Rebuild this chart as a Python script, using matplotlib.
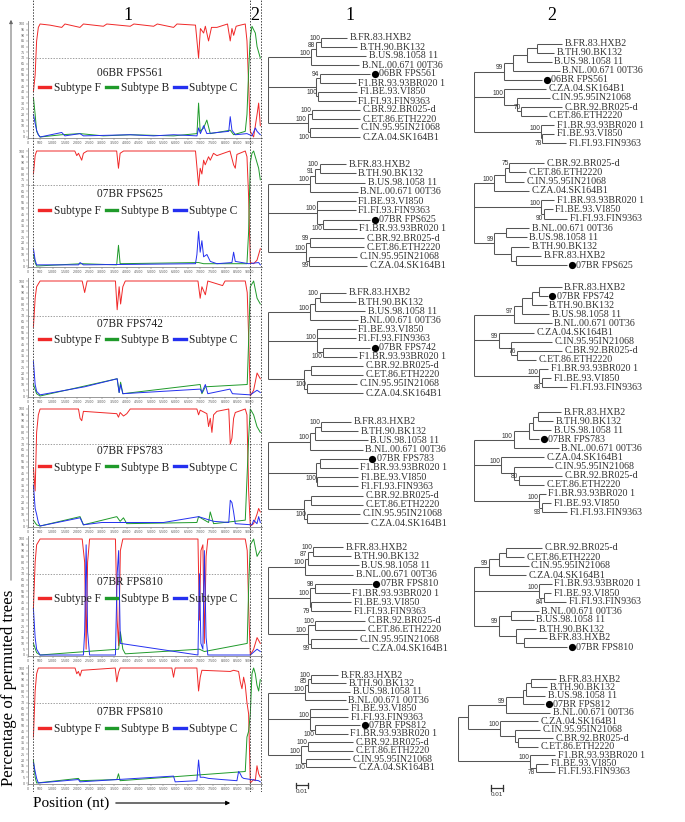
import matplotlib
matplotlib.use("Agg")
import matplotlib.pyplot as plt
from matplotlib.ticker import FuncFormatter
from matplotlib.patches import FancyArrowPatch

# ---------------------------------------------------------------- data
SAMPLES = ["06BR FPS561", "07BR FPS625", "07BR FPS742", "07BR FPS783", "07BR FPS810", "07BR FPS810"]
SUBTYPES = ["Subtype F", "Subtype B", "Subtype C"]
BREAKS = [217, 9000, 9450]
REGION_LABELS = ["1", "2"]
X_TICKS = list(range(0, 9001, 500))
Y_TICKS = list(range(0, 101, 5))

P1_F_POS = [220, 290, 350, 420, 490, 890, 1370, 1500, 2110, 2250, 3060, 3200, 4150, 4300, 5100, 5250, 5910, 6050, 6800, 6925, 7000, 7130, 7200, 7330, 7450, 7670, 8100, 8210, 8280, 8350, 8450, 8620, 8820, 8890, 8960, 9025, 9160, 9230, 9300, 9364, 9431]
P1_F_PCT = [40, 55, 85, 97, 100, 99, 97, 100, 97, 100, 98, 100, 98, 100, 98, 100, 97, 100, 99, 70, 96, 92, 98, 85, 97, 97, 100, 85, 96, 90, 98, 99, 100, 85, 45, 5, 0, 10, 20, 30, 10]
P1_B_POS = [220, 290, 350, 420, 490, 1370, 2110, 3060, 4150, 5910, 6860, 6925, 6990, 7130, 7260, 7400, 8210, 8350, 8820, 8890, 8960, 9025, 9093, 9160, 9230, 9300, 9364, 9431]
P1_B_PCT = [35, 20, 5, 2, 0, 2, 3, 1, 2, 1, 3, 30, 5, 8, 15, 3, 6, 2, 5, 20, 60, 88, 98, 95, 92, 80, 75, 70]
P1_C_POS = [220, 290, 350, 420, 490, 1370, 1500, 2110, 2250, 4150, 5100, 5910, 6860, 6925, 7000, 7130, 7260, 8150, 8210, 8280, 8420, 8890, 9093, 9230, 9300, 9431]
P1_C_PCT = [20, 12, 6, 2, 0, 4, 1, 3, 1, 2, 1, 2, 1, 8, 3, 10, 3, 5, 18, 6, 2, 3, 1, 8, 5, 2]

P2_F_POS = [220, 290, 350, 1900, 1980, 2050, 2180, 2250, 2400, 3600, 3673, 3740, 3880, 6800, 6925, 6990, 7060, 7130, 7195, 7330, 7400, 7530, 7670, 8200, 8347, 8415, 8482, 8820, 8890, 8957, 9025, 9160, 9296, 9364, 9431]
P2_F_PCT = [80, 96, 100, 100, 96, 98, 92, 98, 100, 100, 85, 98, 100, 100, 70, 85, 80, 92, 88, 95, 92, 98, 96, 100, 88, 85, 97, 100, 95, 60, 3, 2, 5, 10, 15]
P2_B_POS = [220, 290, 350, 2180, 3600, 3673, 3740, 6925, 7130, 8889, 8957, 9025, 9093, 9160, 9296, 9364, 9431]
P2_B_PCT = [10, 3, 0, 2, 1, 18, 2, 3, 2, 2, 30, 90, 98, 100, 90, 85, 75]
P2_C_POS = [220, 290, 350, 2050, 2114, 2250, 6800, 6857, 6925, 6990, 7060, 7130, 7263, 7400, 7670, 8279, 8347, 8415, 8957, 9364, 9431]
P2_C_PCT = [15, 5, 1, 1, 3, 1, 2, 10, 30, 12, 22, 8, 10, 4, 2, 3, 12, 4, 2, 3, 1]

P3_F_POS = [220, 290, 350, 490, 2200, 2300, 2400, 3550, 3620, 3700, 3760, 3850, 3950, 6900, 6990, 7060, 7200, 7300, 7900, 8000, 8820, 8900, 8960, 9025, 9160, 9300, 9431]
P3_F_PCT = [60, 85, 95, 100, 100, 90, 100, 100, 75, 95, 80, 95, 100, 100, 85, 95, 88, 100, 96, 100, 100, 90, 50, 0, 5, 20, 15]
P3_B_POS = [220, 350, 490, 3620, 3700, 3760, 3850, 6990, 7060, 7200, 8900, 8960, 9025, 9160, 9300, 9431]
P3_B_PCT = [10, 2, 0, 15, 3, 12, 2, 10, 2, 8, 10, 50, 95, 100, 85, 80]
P3_C_POS = [220, 290, 350, 490, 2300, 3620, 3700, 3760, 3850, 6990, 7060, 7200, 7300, 8200, 8300, 9025, 9300, 9431]
P3_C_PCT = [30, 10, 4, 1, 8, 15, 3, 10, 2, 6, 3, 10, 2, 6, 2, 1, 5, 3]

P4_F_POS = [220, 290, 350, 420, 490, 2050, 2114, 2182, 2250, 3605, 3673, 3741, 3876, 4011, 4150, 6857, 6925, 6992, 7263, 7331, 7399, 7467, 7534, 7670, 8150, 8212, 8279, 8347, 8415, 8821, 8889, 8957, 9025, 9160, 9296, 9364, 9431]
P4_F_PCT = [50, 30, 80, 95, 100, 100, 92, 90, 98, 96, 93, 97, 94, 96, 100, 100, 95, 99, 96, 85, 92, 80, 95, 98, 100, 70, 75, 92, 97, 100, 95, 30, 0, 2, 10, 15, 12]
P4_B_POS = [220, 350, 490, 2114, 2250, 3605, 3741, 3876, 4011, 6857, 6925, 7331, 7399, 7534, 8821, 8889, 8957, 9025, 9160, 9296, 9431]
P4_B_PCT = [5, 1, 0, 8, 1, 8, 4, 7, 2, 3, 8, 3, 12, 2, 5, 40, 75, 100, 95, 85, 80]
P4_C_POS = [220, 290, 350, 420, 490, 2114, 2250, 2995, 3673, 5502, 6925, 7534, 8150, 8212, 8279, 8347, 8415, 9093, 9160, 9296, 9364, 9431]
P4_C_PCT = [35, 15, 10, 3, 0, 7, 1, 3, 3, 3, 8, 4, 3, 22, 20, 12, 2, 1, 5, 2, 8, 3]

P5_F_POS = [220, 290, 350, 490, 2200, 2300, 2360, 2420, 2500, 3550, 3620, 3680, 3750, 3850, 6900, 6960, 7020, 7100, 7160, 7230, 7300, 8820, 8900, 8960, 9025, 9160, 9300, 9431]
P5_F_PCT = [40, 80, 95, 100, 100, 80, 5, 80, 100, 100, 30, 8, 90, 100, 100, 30, 90, 95, 10, 85, 100, 100, 90, 40, 0, 5, 15, 10]
P5_B_POS = [220, 350, 490, 2360, 3680, 3750, 3850, 3950, 6960, 7160, 8900, 8960, 9025, 9160, 9300, 9431]
P5_B_PCT = [10, 2, 0, 3, 5, 20, 5, 1, 5, 3, 10, 60, 95, 100, 85, 90]
P5_C_POS = [220, 290, 350, 490, 2250, 2300, 2360, 2420, 2500, 3550, 3620, 3680, 3750, 6900, 6960, 7020, 7100, 7160, 7230, 7300, 9025, 9300, 9431]
P5_C_PCT = [40, 15, 5, 0, 0, 20, 95, 20, 0, 0, 70, 90, 10, 0, 70, 10, 5, 90, 15, 0, 0, 5, 3]

P6_F_POS = [220, 290, 350, 420, 1911, 1979, 2046, 2114, 2182, 3541, 3605, 3673, 3741, 5840, 5908, 5976, 6857, 6925, 6992, 7060, 8212, 8347, 8550, 8618, 8686, 8754, 8821, 8889, 8957, 9025, 9160, 9228, 9296, 9364, 9431]
P6_F_PCT = [40, 80, 95, 100, 100, 95, 97, 93, 98, 100, 88, 96, 100, 100, 92, 100, 100, 80, 92, 98, 97, 98, 97, 88, 82, 92, 85, 70, 60, 0, 3, 2, 15, 8, 5]
P6_B_POS = [220, 290, 350, 2046, 2114, 3605, 3673, 3741, 8821, 8889, 8957, 9025, 9093, 9160, 9228, 9296, 9364, 9431]
P6_B_PCT = [20, 5, 0, 4, 2, 3, 8, 2, 10, 40, 45, 60, 95, 100, 95, 85, 80, 90]
P6_C_POS = [220, 290, 350, 420, 2046, 2114, 5908, 5976, 6857, 6925, 6992, 7128, 7331, 7873, 8482, 8550, 8618, 8686, 8754, 9364, 9431]
P6_C_PCT = [18, 10, 4, 0, 3, 1, 6, 1, 2, 20, 5, 5, 4, 3, 2, 10, 8, 5, 4, 2, 1]

# Neighbour-joining trees, branch lengths in units of 0.001 substitutions/site,
# internal node names are bootstrap values.
TREE1 = [
    "((((B.FR.83.HXB2:22,B.TH.90.BK132:30)100:4,B.US.98.1058 11:42)88:4,B.NL.00.671 00T36:40)100:36,((06BR FPS561:42,F1.BR.93.93BR020 1:30)94:3,(F1.BE.93.VI850:32,F1.FI.93.FIN9363:31)100:2):40,((C.BR.92.BR025-d:40,C.ET.86.ETH2220:40)100:4,(C.IN.95.95IN21068:40,C.ZA.04.SK164B1:42)100:2)100:33);",
    "((((B.FR.83.HXB2:22,B.TH.90.BK132:30)100:4,B.US.98.1058 11:42)91:4,B.NL.00.671 00T36:40)100:35,(F1.BE.93.VI850:32,F1.FI.93.FIN9363:32,(07BR FPS625:39,F1.BR.93.93BR020 1:28)100:5)100:41,((C.BR.92.BR025-d:45,C.ET.86.ETH2220:45)99:3,(C.IN.95.95IN21068:40,C.ZA.04.SK164B1:48)99:2.5)100:32);",
    "((((B.FR.83.HXB2:22,B.TH.90.BK132:30)100:4,B.US.98.1058 11:42):4,B.NL.00.671 00T36:40)100:35,(F1.BE.93.VI850:32,F1.FI.93.FIN9363:32,(07BR FPS742:39,F1.BR.93.93BR020 1:28)100:5)100:41,((C.BR.92.BR025-d:43,C.ET.86.ETH2220:43):6,(C.IN.95.95IN21068:42,C.ZA.04.SK164B1:47)100:2.5):30);",
    "((((B.FR.83.HXB2:25,B.TH.90.BK132:31)100:5,B.US.98.1058 11:44):4,B.NL.00.671 00T36:44)100:35,((07BR FPS783:40,F1.BR.93.93BR020 1:32):3,(F1.BE.93.VI850:34,F1.FI.93.FIN9363:34)100:1):40,((C.BR.92.BR025-d:43,C.ET.86.ETH2220:43):6,(C.IN.95.95IN21068:44,C.ZA.04.SK164B1:51)100:2.5):30);",
    "((((B.FR.83.HXB2:25,B.TH.90.BK132:32)100:4,B.US.98.1058 11:42)87:2.5,B.NL.00.671 00T36:40)100:31,((07BR FPS810:47.5,F1.BR.93.93BR020 1:29)98:4,(F1.BE.93.VI850:33,F1.FI.93.FIN9363:33)79:1)100:35,((C.BR.92.BR025-d:42,C.ET.86.ETH2220:42)100:6,(C.IN.95.95IN21068:39,C.ZA.04.SK164B1:49)99:2.5)100:33);",
    "((((B.FR.83.HXB2:22.5,B.TH.90.BK132:29)100:2.5,B.US.98.1058 11:35)85:2.5,B.NL.00.671 00T36:34)100:31,(F1.BE.93.VI850:32,F1.FI.93.FIN9363:32,(07BR FPS812:38,F1.BR.93.93BR020 1:27.5)100:4)100:35,((C.BR.92.BR025-d:37.5,C.ET.86.ETH2220:37.5)100:6,(C.IN.95.95IN21068:37,C.ZA.04.SK164B1:42)100:4)100:27.5);",
]
TREE2 = [
    "(((((B.FR.83.HXB2:21,B.TH.90.BK132:14):8.5,B.US.98.1058 11:21):11.5,B.NL.00.671 00T36:39):7.5,06BR FPS561:32)99:25,(C.ZA.04.SK164B1:35,(C.IN.95.95IN21068:27,(C.BR.92.BR025-d:34,C.ET.86.ETH2220:21)70:3.5):11)100:25,(F1.BR.93.93BR020 1:11,(F1.BE.93.VI850:10,F1.FI.93.FIN9363:20)78:1)100:56);",
    "((((C.BR.92.BR025-d:29,C.ET.86.ETH2220:14)75:3.5,C.IN.95.95IN21068:16):9,C.ZA.04.SK164B1:29)100:17,(F1.BR.93.93BR020 1:11,(F1.BE.93.VI850:7,F1.FI.93.FIN9363:19)90:2.5)100:56,((B.NL.00.671 00T36:19,B.US.98.1058 11:17):10,(B.TH.90.BK132:15,(B.FR.83.HXB2:21,07BR FPS625:42.5):4):14)99:17);",
    "(((((B.FR.83.HXB2:19,07BR FPS742:7.5):6,B.TH.90.BK132:12.5):8,B.US.98.1058 11:22.5):7,B.NL.00.671 00T36:32)97:33,(C.ZA.04.SK164B1:29,(C.IN.95.95IN21068:34,(C.BR.92.BR025-d:37.5,C.ET.86.ETH2220:16)76:5):10)99:21,(F1.BR.93.93BR020 1:8,(F1.BE.93.VI850:7.5,F1.FI.93.FIN9363:21)88:2.5)100:54);",
    "(((((B.FR.83.HXB2:19,B.TH.90.BK132:12.5):4,B.US.98.1058 11:15):4,07BR FPS783:9):12.5,B.NL.00.671 00T36:37.5)100:33,(C.ZA.04.SK164B1:36,(C.IN.95.95IN21068:32,(C.BR.92.BR025-d:36,C.ET.86.ETH2220:21)80:4):11)100:22.5,(F1.BR.93.93BR020 1:6,(F1.BE.93.VI850:8,F1.FI.93.FIN9363:21)93:2.5)100:54);",
    "((((C.BR.92.BR025-d:30,C.ET.86.ETH2220:15):6,C.IN.95.95IN21068:25):8,C.ZA.04.SK164B1:31)99:12.5,(F1.BR.93.93BR020 1:11,(F1.BE.93.VI850:6,F1.FI.93.FIN9363:19)84:4)100:54,((B.NL.00.671 00T36:23,B.US.98.1058 11:19):10,(B.TH.90.BK132:17,(B.FR.83.HXB2:19,07BR FPS810:36):6.5):14)99:21);",
    "((((((B.FR.83.HXB2:21,B.TH.90.BK132:14):4,B.US.98.1058 11:16):2.5,07BR FPS812:18):14,B.NL.00.671 00T36:37)99:32,(C.ZA.04.SK164B1:32,(C.IN.95.95IN21068:21,(C.BR.92.BR025-d:29,C.ET.86.ETH2220:17):2.5):12.5)100:27):8,(F1.BR.93.93BR020 1:21,(F1.BE.93.VI850:10,F1.FI.93.FIN9363:16)78:5)100:60);",
]
SCALE_BAR_LEN = 10          # in 0.001 units
SCALE_BAR_LABEL = "0.01"

CURVES = [
    [(P1_F_POS, P1_F_PCT), (P1_B_POS, P1_B_PCT), (P1_C_POS, P1_C_PCT)],
    [(P2_F_POS, P2_F_PCT), (P2_B_POS, P2_B_PCT), (P2_C_POS, P2_C_PCT)],
    [(P3_F_POS, P3_F_PCT), (P3_B_POS, P3_B_PCT), (P3_C_POS, P3_C_PCT)],
    [(P4_F_POS, P4_F_PCT), (P4_B_POS, P4_B_PCT), (P4_C_POS, P4_C_PCT)],
    [(P5_F_POS, P5_F_PCT), (P5_B_POS, P5_B_PCT), (P5_C_POS, P5_C_PCT)],
    [(P6_F_POS, P6_F_PCT), (P6_B_POS, P6_B_PCT), (P6_C_POS, P6_C_PCT)],
]

# ---------------------------------------------------------------- layout / style
W, H = 685, 822
COLORS = ["#f02828", "#1f9a2a", "#2430f0"]
SERIF = "Liberation Serif"
SANS = "Liberation Sans"
LINE_COL = "#555555"
TXT_COL = "#333333"
GRID_COL = "#777777"

PLOT_X0, PLOT_X1 = 28, 262
XMAX = 9500
BASE_PX = [137, 266, 396, 526, 655, 783]
TOP_PX = [24, 151, 281, 409, 539, 668]
NAME_PCT = [57, 63, 63, 64, 63, 62]
LEG_PCT = [43, 48, 49, 50, 48, 47]

PX_PER_UNIT = 1.2
T1_ROOT = [268] * 6
T2_ROOT = [474, 474, 474, 474, 474, 458]
T1_TOP = [38, 164, 293, 422, 547, 675]
T1_STEP = [9.0, 9.25, 9.1, 9.2, 9.2, 8.4]
T2_TOP = [44, 163, 287, 412, 548, 679]
T2_STEP = [9.0, 9.3, 9.1, 9.1, 9.0, 8.45]

fig = plt.figure(figsize=(W / 100, H / 100), dpi=100)
fig.patch.set_facecolor("white")


def frac_rect(x0, y0, x1, y1):
    return [x0 / W, 1 - y1 / H, (x1 - x0) / W, (y1 - y0) / H]


def thousands(v, _):
    v = int(round(v))
    return f"{v:,}".replace(",", ".")


# ---------------------------------------------------------------- bootscan panels
for i in range(6):
    b, t = BASE_PX[i], TOP_PX[i]
    s = (b - t) / 100.0
    ax = fig.add_axes(frac_rect(PLOT_X0, t - 3 * s, PLOT_X1, b + 1 * s))
    ax.set_facecolor("none")
    ax.set_xlim(0, XMAX)
    ax.set_ylim(-1, 103)
    for (pos, pct), col, lab in zip(CURVES[i], COLORS, SUBTYPES):
        ax.plot(pos, pct, color=col, lw=0.7, label=lab, zorder=3)
    ax.axhline(70, color=GRID_COL, lw=0.5, ls=(0, (2, 2)), zorder=1)
    for sp in ["top", "right"]:
        ax.spines[sp].set_visible(False)
    for sp in ["left", "bottom"]:
        ax.spines[sp].set_color("#888888")
        ax.spines[sp].set_linewidth(0.6)
    ax.set_xticks(X_TICKS)
    ax.xaxis.set_major_formatter(FuncFormatter(thousands))
    ax.set_yticks(Y_TICKS)
    ax.tick_params(axis="both", labelsize=2.3, length=1.2, width=0.3, pad=0.8,
                   colors="#555555")
    ax.text(0.436, (NAME_PCT[i] + 1) / 104, SAMPLES[i], transform=ax.transAxes,
            ha="center", va="center", fontsize=8.3, family=SERIF, color="#222222")
    leg = ax.legend(loc="center", bbox_to_anchor=(0.47, (LEG_PCT[i] + 1) / 104), ncol=3,
                    frameon=False, handlelength=1.0, handletextpad=0.3,
                    columnspacing=0.45, borderpad=0, borderaxespad=0,
                    prop={"family": SERIF, "size": 8.3})
    for hl in leg.get_lines():
        hl.set_linewidth(2.4)
    for tx in leg.get_texts():
        tx.set_color("#222222")

# break lines across the whole left column
ov = fig.add_axes(frac_rect(PLOT_X0, 0, PLOT_X1, 792))
ov.set_xlim(0, XMAX)
ov.set_ylim(792, 0)
ov.axis("off")
ov.patch.set_alpha(0)
for bx in BREAKS:
    ov.axvline(bx, color="#444444", lw=0.7, ls=(0, (1.5, 1.5)))
ov.text(4065, 15, REGION_LABELS[0], ha="center", va="center", fontsize=13, family=SERIF)
ov.text((BREAKS[1] + BREAKS[2]) / 2, 15, REGION_LABELS[1], ha="center", va="center",
        fontsize=13, family=SERIF)

# axis titles with arrows
fig.text(9.5 / W, 1 - 688 / H, "Percentage of permuted trees", rotation=90, ha="center",
         va="center", fontsize=12.2, family=SERIF)
fig.add_artist(FancyArrowPatch((11 / W, 1 - 583 / H), (11 / W, 1 - 17 / H),
                               transform=fig.transFigure, arrowstyle="-|>",
                               mutation_scale=5, lw=0.7, color="#666666"))
fig.text(33 / W, 1 - 803 / H, "Position (nt)", ha="left", va="center", fontsize=11,
         family=SERIF)
fig.add_artist(FancyArrowPatch((113 / W, 1 - 803 / H), (233 / W, 1 - 803 / H),
                               transform=fig.transFigure, arrowstyle="-|>",
                               mutation_scale=6, lw=0.8, color="black"))

# ---------------------------------------------------------------- trees
def parse_newick(s):
    s = s.strip().rstrip(";")
    pos = 0

    def node():
        nonlocal pos
        children = []
        if s[pos] == "(":
            pos += 1
            while True:
                children.append(node())
                if s[pos] == ",":
                    pos += 1
                    continue
                if s[pos] == ")":
                    pos += 1
                    break
        start = pos
        while pos < len(s) and s[pos] not in ":,()":
            pos += 1
        name = s[start:pos].strip()
        length = 0.0
        if pos < len(s) and s[pos] == ":":
            pos += 1
            start = pos
            while pos < len(s) and s[pos] not in ",()":
                pos += 1
            length = float(s[start:pos])
        return {"name": name, "len": length, "children": children}

    return node()


def draw_tree(ax, newick):
    root = parse_newick(newick)
    leaves = []

    def place(nd, x):
        nd["x"] = x
        if nd["children"]:
            for c in nd["children"]:
                place(c, x + c["len"])
            nd["y"] = (nd["children"][0]["y"] + nd["children"][-1]["y"]) / 2
        else:
            nd["y"] = len(leaves)
            leaves.append(nd)

    place(root, 0.0)
    px = 1.0 / PX_PER_UNIT
    kw = dict(color=LINE_COL, lw=0.75, solid_capstyle="butt")

    def draw(nd, parent):
        if parent is not None:
            ax.plot([parent["x"], nd["x"]], [nd["y"], nd["y"]], **kw)
        if nd["children"]:
            ax.plot([nd["x"], nd["x"]], [nd["children"][0]["y"], nd["children"][-1]["y"]], **kw)
            for c in nd["children"]:
                draw(c, nd)
            if nd["name"] and parent is not None:
                below = (bool(parent["name"]) and nd is parent["children"][-1]
                         and (nd["x"] - parent["x"]) / px < 8)
                if below:
                    ax.text(nd["x"] - 0.8 * px, nd["y"] + 0.12, nd["name"], ha="right",
                            va="top", fontsize=4.8, family=SANS, color=TXT_COL)
                else:
                    ax.text(nd["x"] - 0.8 * px, nd["y"] - 0.02, nd["name"], ha="right",
                            va="bottom", fontsize=4.8, family=SANS, color=TXT_COL)
        else:
            name = nd["name"]
            if name[0].isdigit():
                ax.plot([nd["x"] + 4.5 * px], [nd["y"]], "o", color="black", ms=5.2,
                        markeredgewidth=0)
                ax.text(nd["x"] + 9 * px, nd["y"], name, ha="left", va="center",
                        fontsize=7.2, family=SERIF, color=TXT_COL)
            else:
                ax.text(nd["x"] + 2.5 * px, nd["y"], name, ha="left", va="center",
                        fontsize=7.2, family=SERIF, color=TXT_COL)

    draw(root, None)
    return len(leaves)


def tree_axes(root_x, top_y, step):
    ax = fig.add_axes(frac_rect(root_x, top_y - 0.5 * step, W, top_y + 11.5 * step))
    ax.set_xlim(0, (W - root_x) / PX_PER_UNIT)
    ax.set_ylim(11.5, -0.5)
    ax.axis("off")
    ax.patch.set_alpha(0)
    return ax


for i in range(6):
    a1 = tree_axes(T1_ROOT[i], T1_TOP[i], T1_STEP[i])
    draw_tree(a1, TREE1[i])
    a2 = tree_axes(T2_ROOT[i], T2_TOP[i], T2_STEP[i])
    draw_tree(a2, TREE2[i])
    if i == 5:
        for a, x0, yb in [(a1, 23, 13.1), (a2, 27.5, 12.9)]:
            a.plot([x0, x0 + SCALE_BAR_LEN], [yb, yb], color="#333333", lw=0.9, clip_on=False)
            for xe in (x0, x0 + SCALE_BAR_LEN):
                a.plot([xe, xe], [yb - 0.3, yb + 0.3], color="#333333", lw=0.9, clip_on=False)
            a.text(x0 + SCALE_BAR_LEN / 2, yb + 0.45, SCALE_BAR_LABEL, ha="center", va="top",
                   fontsize=4.5, family=SANS, color=TXT_COL, clip_on=False)

fig.text(350 / W, 1 - 15 / H, REGION_LABELS[0], ha="center", va="center", fontsize=13,
         family=SERIF)
fig.text(552 / W, 1 - 15 / H, REGION_LABELS[1], ha="center", va="center", fontsize=13,
         family=SERIF)

fig.savefig("out.png", dpi=100, facecolor="white")
